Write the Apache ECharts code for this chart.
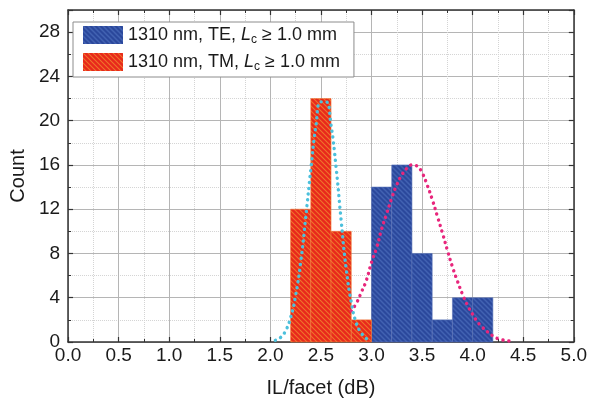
<!DOCTYPE html>
<html lang="en">
<head>
    <meta charset="UTF-8">
    <title>IL per facet histogram</title>
    <script src="https://cdn.jsdelivr.net/npm/echarts@6/dist/echarts.min.js"></script>
</head>
<body style="margin:0">
<div id="box" style="width: 590px;height: 405px;"></div>
<script>
    // histogram bins: [start, end, count]
    var teBins = [[3.0, 3.2, 14], [3.2, 3.4, 16], [3.4, 3.6, 8], [3.6, 3.8, 2], [3.8, 4.0, 4], [4.0, 4.2, 4]];
    var tmBins = [[2.2, 2.4, 12], [2.4, 2.6, 22], [2.6, 2.8, 10], [2.8, 3.0, 2]];

    // gaussian fits
    var tmFitX = [2.05, 2.10, 2.15, 2.20, 2.25, 2.30, 2.35, 2.40, 2.45, 2.50, 2.55, 2.60, 2.65, 2.70, 2.75, 2.80, 2.85, 2.90, 2.95];
    var tmFitY = [0.15, 0.4, 1.0, 2.2, 4.2, 7.2, 11.3, 15.6, 19.5, 21.7, 21.7, 19.6, 15.8, 11.0, 6.6, 3.6, 1.7, 0.8, 0.3];
    var teFitX = [2.80, 2.85, 2.90, 2.95, 3.00, 3.05, 3.10, 3.15, 3.20, 3.25, 3.30, 3.35, 3.40, 3.45, 3.50, 3.55, 3.60,
        3.65, 3.70, 3.75, 3.80, 3.85, 3.90, 3.95, 4.00, 4.05, 4.10, 4.15, 4.20, 4.25, 4.30, 4.35, 4.40];
    var teFitY = [2.8, 3.5, 4.5, 5.6, 7.2, 8.5, 10.2, 11.6, 13.0, 14.2, 15.1, 15.7, 16.0, 15.9, 15.3, 14.2, 12.9,
        11.4, 9.9, 8.3, 6.8, 5.5, 4.3, 3.3, 2.5, 1.8, 1.3, 0.9, 0.55, 0.3, 0.18, 0.1, 0.05];

    var xTicks = [0, 0.5, 1, 1.5, 2, 2.5, 3, 3.5, 4, 4.5, 5];
    var yTicks = [0, 4, 8, 12, 16, 20, 24, 28];

    // diagonal hatch like the original fill
    function hatch(bg, fg, w) {
        var c = document.createElement('canvas');
        c.width = 5;
        c.height = 5;
        var g = c.getContext('2d');
        g.fillStyle = bg;
        g.fillRect(0, 0, 5, 5);
        g.strokeStyle = fg;
        g.lineWidth = w;
        g.beginPath();
        for (var k = -5; k <= 5; k += 5) {
            g.moveTo(k - 1, -1);
            g.lineTo(k + 6, 6);
        }
        g.stroke();
        return {image: c, repeat: 'repeat'};
    }
    var blueFill = hatch('#2b489c', '#4262b2', 1.5);
    var redFill = hatch('#e8291c', '#f0742c', 1.1);

    function zip(xs, ys) {
        var res = [];
        for (var i = 0; i < xs.length; i++) {
            res.push([xs[i], ys[i]]);
        }
        return res;
    }

    function binRenderer(fill, edge) {
        return function (params, api) {
            var p0 = api.coord([api.value(0), api.value(2)]);
            var p1 = api.coord([api.value(1), 0]);
            return {
                type: 'rect',
                shape: {x: p0[0], y: p0[1], width: p1[0] - p0[0], height: p1[1] - p0[1]},
                style: {fill: fill, stroke: edge, lineWidth: 0.6}
            };
        };
    }

    var gridMajor = {show: true, lineStyle: {color: '#b5b5b5', width: 1}};
    var gridMinor = {show: true, lineStyle: {color: '#d4d4d4', width: 1, type: 'dotted'}};
    var frame = {show: true, onZero: false, lineStyle: {color: '#333', width: 1.5}};
    var tick = {show: true, inside: true, length: 5, lineStyle: {color: '#333', width: 1.2}};
    var minorTick = {show: true, splitNumber: 2, length: 3, lineStyle: {color: '#333', width: 1}};

    var chart = echarts.init(document.getElementById('box'));
    chart.setOption({
        animation: false,
        backgroundColor: '#fff',
        grid: {left: 65, right: 15, top: 10, bottom: 63},
        legend: {
            orient: 'vertical',
            left: 73,
            top: 22,
            padding: [4, 14, 4, 10],
            itemWidth: 40,
            itemHeight: 18,
            itemGap: 7,
            backgroundColor: '#fff',
            borderColor: '#8c8c8c',
            borderWidth: 1,
            data: [
                {name: 'TE', icon: 'rect', itemStyle: {color: blueFill}},
                {name: 'TM', icon: 'rect', itemStyle: {color: redFill}}
            ],
            formatter: function (name) {
                return '{n|1310 nm, ' + name + ', }{i|L}{s|c}{n| ≥ 1.0 mm}';
            },
            textStyle: {
                fontFamily: 'Liberation Sans',
                color: '#1a1a1a',
                rich: {
                    n: {fontSize: 18, fontFamily: 'Liberation Sans', color: '#1a1a1a'},
                    i: {fontSize: 18, fontFamily: 'Liberation Sans', fontStyle: 'italic', color: '#1a1a1a'},
                    s: {fontSize: 12, fontFamily: 'Liberation Sans', color: '#1a1a1a', padding: [10, 0, 0, 0]}
                }
            }
        },
        xAxis: [{
            type: 'value',
            min: 0,
            max: 5,
            interval: 0.5,
            name: 'IL/facet (dB)',
            nameLocation: 'middle',
            nameGap: 36,
            nameTextStyle: {fontFamily: 'Liberation Sans', fontSize: 20, color: '#1a1a1a'},
            axisLine: frame,
            axisTick: tick,
            minorTick: minorTick,
            splitLine: gridMajor,
            minorSplitLine: gridMinor,
            axisLabel: {
                fontFamily: 'Liberation Sans', fontSize: 19, color: '#1a1a1a', margin: 4,
                formatter: function (v) {
                    return xTicks.indexOf(v) >= 0 ? v.toFixed(1) : '';
                }
            }
        }, {
            type: 'value',
            position: 'top',
            min: 0,
            max: 5,
            interval: 0.5,
            axisLine: frame,
            axisTick: tick,
            minorTick: minorTick,
            splitLine: {show: false},
            axisLabel: {show: false}
        }],
        yAxis: [{
            type: 'value',
            min: 0,
            max: 30,
            interval: 4,
            name: 'Count',
            nameLocation: 'middle',
            nameGap: 40,
            nameTextStyle: {fontFamily: 'Liberation Sans', fontSize: 20, color: '#1a1a1a'},
            axisLine: frame,
            axisTick: tick,
            minorTick: minorTick,
            splitLine: gridMajor,
            minorSplitLine: gridMinor,
            axisLabel: {
                fontFamily: 'Liberation Sans', fontSize: 19, color: '#1a1a1a', margin: 8,
                formatter: function (v) {
                    return yTicks.indexOf(v) >= 0 ? String(v) : '';
                }
            }
        }, {
            type: 'value',
            position: 'right',
            min: 0,
            max: 30,
            interval: 4,
            axisLine: frame,
            axisTick: tick,
            minorTick: minorTick,
            splitLine: {show: false},
            axisLabel: {show: false}
        }],
        series: [
            {
                name: 'TE',
                type: 'custom',
                xAxisIndex: 0,
                yAxisIndex: 0,
                renderItem: binRenderer(blueFill, '#5a74b8'),
                encode: {x: [0, 1], y: 2},
                itemStyle: {color: blueFill},
                data: teBins,
                z: 2
            },
            {
                name: 'TM',
                type: 'custom',
                xAxisIndex: 0,
                yAxisIndex: 0,
                renderItem: binRenderer(redFill, '#f07a3a'),
                encode: {x: [0, 1], y: 2},
                itemStyle: {color: redFill},
                data: tmBins,
                z: 2
            },
            {
                name: 'TE fit',
                type: 'line',
                smooth: true,
                showSymbol: false,
                data: zip(teFitX, teFitY),
                lineStyle: {color: '#e8267c', width: 3.4, type: [0.1, 5.8], cap: 'round'},
                z: 3
            },
            {
                name: 'TM fit',
                type: 'line',
                smooth: true,
                showSymbol: false,
                data: zip(tmFitX, tmFitY),
                lineStyle: {color: '#4cc0dc', width: 3.4, type: [0.1, 5.8], cap: 'round'},
                z: 3
            }
        ]
    });
</script>
</body>
</html>
